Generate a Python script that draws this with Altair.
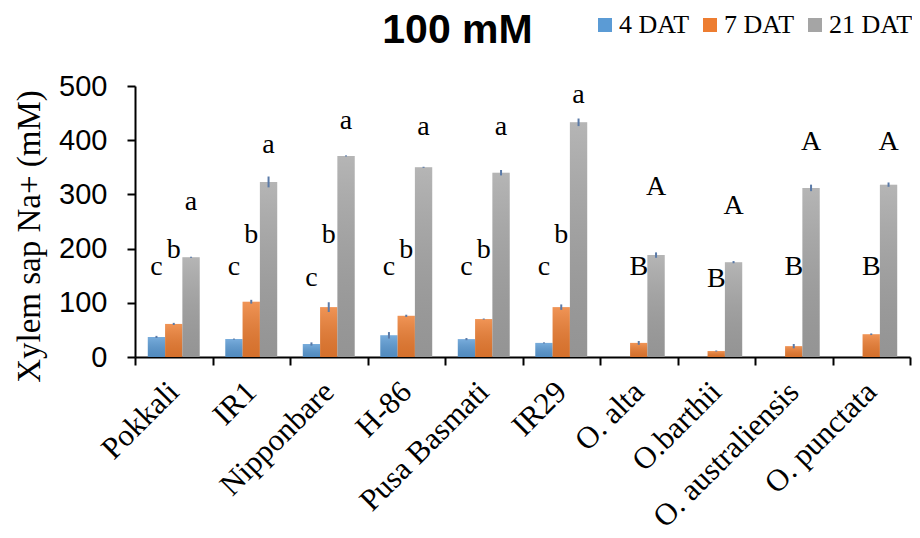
import altair as alt
import pandas as pd

categories = ["Pokkali", "IR1", "Nipponbare", "H-86", "Pusa Basmati", "IR29",
              "O. alta", "O.barthii", "O. australiensis", "O. punctata"]
series = ["4 DAT", "7 DAT", "21 DAT"]
colors = ["#5b9bd5", "#ed7d31", "#a5a5a5"]

dat4 = [37, 33, 24, 40, 33, 26, None, None, None, None]
dat7 = [61, 102, 92, 76, 70, 92, 26, 11, 20, 42]
dat21 = [184, 323, 371, 350, 340, 433, 188, 175, 312, 318]
err4 = [2, 1, 3, 6, 2, 1, None, None, None, None]
err7 = [2, 3.5, 9, 2, 1, 5, 3.5, 1, 4, 1.5]
err21 = [1, 10, 1, 1, 5, 7, 5, 2, 6, 4]

# significance letters: (letter, height in mM) for each series
let4 = [("c", 166), ("c", 166), ("c", 146), ("c", 166), ("c", 166), ("c", 166), None, None, None, None]
let7 = [("b", 197), ("b", 225), ("b", 225), ("b", 197), ("b", 197), ("b", 225),
        ("B", 166), ("B", 144), ("B", 166), ("B", 166)]
let21 = [("a", 286), ("a", 391), ("a", 435), ("a", 424), ("a", 424), ("a", 483),
         ("A", 314), ("A", 279), ("A", 397), ("A", 397)]

rows = []
lrows = []
for s, vals, errs, lets in zip(series, [dat4, dat7, dat21], [err4, err7, err21], [let4, let7, let21]):
    for c, v, e, l in zip(categories, vals, errs, lets):
        if v is not None:
            rows.append({"cat": c, "series": s, "value": v, "lo": v - e, "hi": v + e})
        if l is not None:
            lrows.append({"cat": c, "series": s, "letter": l[0], "ly": l[1]})

df = pd.DataFrame(rows)
ldf = pd.DataFrame(lrows)

xenc = alt.X("cat:N", sort=categories, title=None,
             scale=alt.Scale(paddingInner=0, paddingOuter=0),
             axis=alt.Axis(labelAngle=315, labelAlign="right", labelBaseline="middle",
                           labelFont="Liberation Serif", labelFontSize=31, labelColor="black",
                           labelPadding=22, labelOverlap=False, labelLimit=400,
                           tickBand="extent", tickSize=8, tickColor="black",
                           tickWidth=2, domainColor="black", domainWidth=2))
xoff = alt.XOffset("series:N", sort=series,
                   scale=alt.Scale(domain=series, paddingInner=0, paddingOuter=0.74))
yscale = alt.Scale(domain=[0, 500])

bars = alt.Chart(df).mark_bar().encode(
    x=xenc,
    xOffset=xoff,
    y=alt.Y("value:Q", scale=yscale, title="Xylem sap Na+ (mM)",
            axis=alt.Axis(values=list(range(0, 501, 50)), grid=False, labelOverlap=False,
                          labelFont="Liberation Sans", labelFontSize=29, labelColor="black",
                          labelPadding=20, tickSize=8, tickColor="black", tickWidth=2,
                          domainColor="black", domainWidth=2,
                          titleFont="Liberation Serif", titleFontSize=33, titleFontWeight="normal",
                          titleColor="black", titleX=-106, titleY=150, titleBaseline="middle",
                          titleAlign="center", titleAngle=270)),
    color=alt.Color("series:N", sort=series,
                    scale=alt.Scale(domain=series, range=colors),
                    legend=alt.Legend(orient="none", legendX=457, legendY=-74,
                                      direction="horizontal", title=None,
                                      symbolType="square", symbolSize=196,
                                      symbolStrokeWidth=0, symbolOpacity=1,
                                      labelFont="Liberation Serif", labelFontSize=26,
                                      labelColor="black", labelOffset=1, columnPadding=7)),
)

shade = alt.Chart(df).mark_bar(
    fill=alt.LinearGradient(
        gradient="linear", x1=0, y1=0, x2=0, y2=1,
        stops=[alt.GradientStop(offset=0, color="rgba(255,255,255,0.18)"),
               alt.GradientStop(offset=1, color="rgba(0,0,0,0.10)")])
).encode(x=alt.X("cat:N", sort=categories), xOffset=xoff,
         y=alt.Y("value:Q", scale=yscale))

errs = alt.Chart(df).mark_rule(color="#5a7aa8", strokeWidth=2).encode(
    x=alt.X("cat:N", sort=categories), xOffset=xoff,
    y=alt.Y("lo:Q", scale=yscale), y2="hi:Q")

letters = alt.Chart(ldf).mark_text(font="Liberation Serif", fontSize=28, color="black",
                                   baseline="middle", align="center").encode(
    x=alt.X("cat:N", sort=categories), xOffset=xoff,
    y=alt.Y("ly:Q", scale=yscale), text="letter:N")

chart = alt.layer(bars, shade, errs, letters).properties(
    width=775, height=271,
    title=alt.Title("100 mM", font="Liberation Sans", fontSize=41, fontWeight="bold",
                    color="black", anchor="middle", dx=-65, dy=72, offset=0, frame="group",
                    baseline="alphabetic"),
    autosize=alt.AutoSizeParams(type="none"),
    padding={"left": 127, "top": 78, "right": 2, "bottom": 170},
).configure_view(stroke=None).configure_axis(grid=False)

chart.save("out.html", embed_options={"renderer": "svg", "actions": False})
